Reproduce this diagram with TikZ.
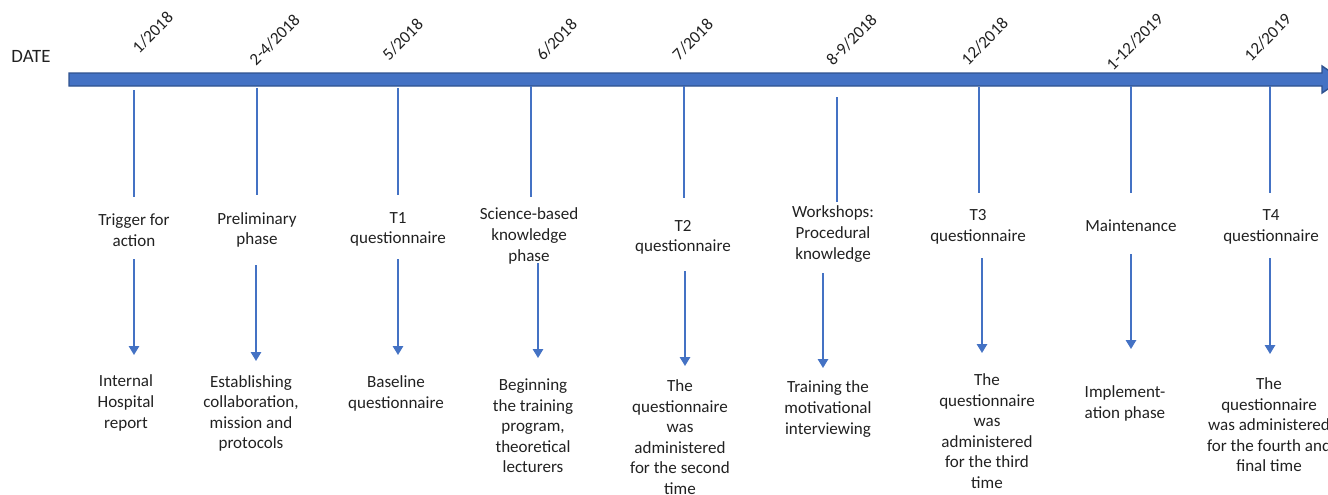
\documentclass[tikz,border=0pt]{standalone}
\usepackage{fontspec}
\setmainfont{Carlito}
\usepackage{tikz}
\usetikzlibrary{arrows.meta,calc,positioning,decorations.text}
\definecolor{tlblue}{HTML}{4472C4}
\definecolor{tldark}{HTML}{2F528F}
\definecolor{txtgray}{rgb}{0.13,0.13,0.13}
\newcommand{\tlfont}{\fontsize{9.7}{11.7}\selectfont}

\begin{document}
\begin{tikzpicture}[x=0.02cm, y=0.02cm,
    phase/.style={font=\tlfont, text=txtgray, align=center, inner sep=0pt},
    datelbl/.style={decorate, decoration={text along path, text color=txtgray, text align=left}},
    tick/.style={draw=tlblue, line width=1.1pt},
    down/.style={draw=tlblue, line width=0.9pt, -{Triangle[width=5.8pt,length=5pt]}}]
            \useasboundingbox (0,-494) rectangle (1328,0);
            % Draw the time axis
            \filldraw[fill=tlblue, draw=tldark, line width=0.8pt]
            (69,-73) -- (1322,-73) -- (1322,-66) -- (1342,-79.5) -- (1322,-93) -- (1322,-86) -- (69,-86) -- cycle;
            \node[font=\fontsize{10.7}{12}\selectfont, text=txtgray, inner sep=0pt] (date) at (31,-56) {DATE};
            % Dates, slanted
            \path[datelbl, decoration={text={|\tlfont|1/2018}}] (139,-54) -- ++(45:100);
            \path[datelbl, decoration={text={|\tlfont|2-4/2018}}] (256,-66) -- ++(45:100);
            \path[datelbl, decoration={text={|\tlfont|5/2018}}] (389,-61) -- ++(45:100);
            \path[datelbl, decoration={text={|\tlfont|6/2018}}] (543,-61) -- ++(45:100);
            \path[datelbl, decoration={text={|\tlfont|7/2018}}] (679,-61) -- ++(45:100);
            \path[datelbl, decoration={text={|\tlfont|8-9/2018}}] (833,-66) -- ++(45:100);
            \path[datelbl, decoration={text={|\tlfont|12/2018}}] (968,-66) -- ++(45:100);
            \path[datelbl, decoration={text={|\tlfont|1-12/2019}}] (1113,-71) -- ++(45:100);
            \path[datelbl, decoration={text={|\tlfont|12/2019}}] (1251,-62) -- ++(45:100);
            % Phases
            \node[phase] (ev1) at (134,-230) {Trigger for\\action};
            \node[phase] (ev2) at (257,-230) {Preliminary\\phase};
            \node[phase] (ev3) at (398,-229.5) {T1\\questionnaire};
            \node[phase] (ev4) at (529,-236) {Science-based\\knowledge\\phase};
            \node[phase] (ev5) at (683,-237.5) {T2\\questionnaire};
            \node[phase] (ev6) at (833,-234) {Workshops:\\Procedural\\knowledge};
            \node[phase] (ev7) at (978,-227) {T3\\questionnaire};
            \node[phase] (ev8) at (1131,-226) {Maintenance};
            \node[phase] (ev9) at (1271,-227) {T4\\questionnaire};
            % Outcomes
            \node[phase] (res1) at (126,-403) {Internal\\Hospital\\report};
            \node[phase] (res2) at (251,-413.5) {Establishing\\collaboration,\\mission and\\protocols};
            \node[phase] (res3) at (396,-393.5) {Baseline\\questionnaire};
            \node[phase] (res4) at (533,-426) {Beginning\\the training\\program,\\theoretical\\lecturers};
            \node[phase] (res5) at (680,-437) {The\\questionnaire\\was\\administered\\for the second\\time};
            \node[phase] (res6) at (828,-409) {Training the\\motivational\\interviewing};
            \node[phase] (res7) at (987,-431) {The\\questionnaire\\was\\administered\\for the third\\time};
            \node[phase, align=left] (res8) at (1125,-403.5) {Implement-\\ation phase};
            \node[phase] (res9) at (1269,-425) {The\\questionnaire\\was administered\\for the fourth and\\final time};
            % Define points
            \coordinate (u1) at (134,-90);   \coordinate (v1) at (134,-197);
            \coordinate (u2) at (257,-88);   \coordinate (v2) at (257,-195);
            \coordinate (u3) at (398,-88);   \coordinate (v3) at (398,-195);
            \coordinate (u4) at (531,-86);   \coordinate (v4) at (531,-197);
            \coordinate (u5) at (684,-86);   \coordinate (v5) at (684,-198);
            \coordinate (u6) at (837,-97);   \coordinate (v6) at (837,-202);
            \coordinate (u7) at (979,-87);   \coordinate (v7) at (979,-193);
            \coordinate (u8) at (1131,-86);  \coordinate (v8) at (1131,-193);
            \coordinate (u9) at (1270,-86);  \coordinate (v9) at (1270,-193);
            \coordinate (a1) at (134,-259);  \coordinate (b1) at (134,-355);
            \coordinate (a2) at (256,-265);  \coordinate (b2) at (256,-361);
            \coordinate (a3) at (398,-259);  \coordinate (b3) at (398,-355);
            \coordinate (a4) at (538,-263);  \coordinate (b4) at (538,-358);
            \coordinate (a5) at (685,-271);  \coordinate (b5) at (685,-366);
            \coordinate (a6) at (823,-273);  \coordinate (b6) at (823,-368);
            \coordinate (a7) at (982,-258);  \coordinate (b7) at (982,-353);
            \coordinate (a8) at (1131,-254); \coordinate (b8) at (1131,-349);
            \coordinate (a9) at (1270,-258); \coordinate (b9) at (1270,-354);
            % Ticks below the axis
            \draw[tick] (u1) -- (v1);
            \draw[tick] (u2) -- (v2);
            \draw[tick] (u3) -- (v3);
            \draw[tick] (u4) -- (v4);
            \draw[tick] (u5) -- (v5);
            \draw[tick] (u6) -- (v6);
            \draw[tick] (u7) -- (v7);
            \draw[tick] (u8) -- (v8);
            \draw[tick] (u9) -- (v9);
            % Arrows to the outcomes
            \draw[down] (a1) -- (b1);
            \draw[down] (a2) -- (b2);
            \draw[down] (a3) -- (b3);
            \draw[down] (a4) -- (b4);
            \draw[down] (a5) -- (b5);
            \draw[down] (a6) -- (b6);
            \draw[down] (a7) -- (b7);
            \draw[down] (a8) -- (b8);
            \draw[down] (a9) -- (b9);
\end{tikzpicture}
\end{document}
